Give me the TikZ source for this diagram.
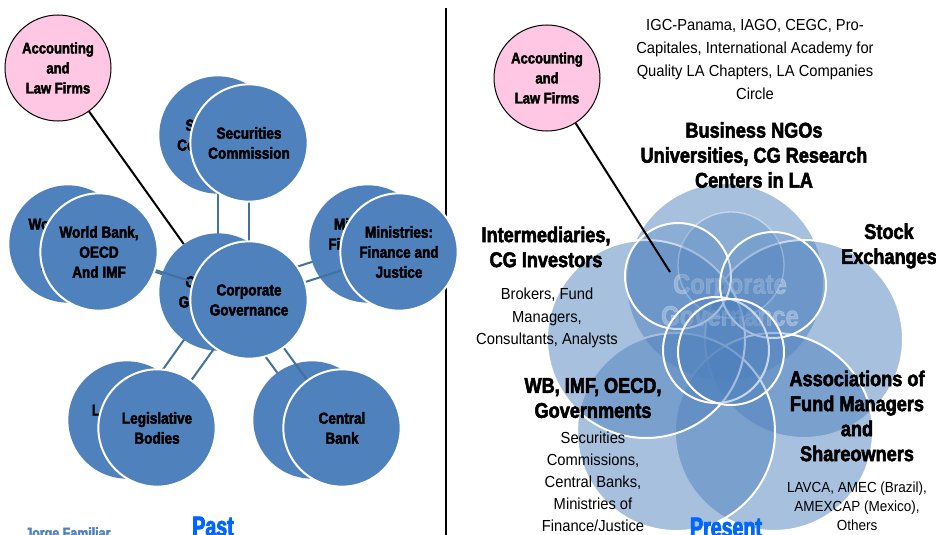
\documentclass[tikz,border=0pt]{standalone}
\usepackage{fontspec}
\setmainfont{Liberation Sans}
\newfontfamily\headfont{Liberation Sans Bold}[FakeStretch=0.85,FakeBold=2.5]
\newfontfamily\erafont{Liberation Sans Bold}[FakeStretch=0.7,FakeBold=3]
\newfontfamily\plainfont{Liberation Sans}[FakeStretch=0.92]
\usepackage{tikz}
\definecolor{cgblue}{RGB}{79,129,189}
\definecolor{linkblue}{RGB}{65,113,156}
\definecolor{pinkfill}{RGB}{255,199,228}
\definecolor{erablue}{RGB}{0,102,255}
\pgfdeclarelayer{backlinks}
\pgfdeclarelayer{backdiscs}
\pgfdeclarelayer{frontlinks}
\pgfsetlayers{backlinks,backdiscs,frontlinks,main}

\begin{document}
\begin{tikzpicture}[x=0.75pt,y=-0.75pt,
  link/.style={draw=linkblue,line width=1.5pt},
  backdisc/.style={circle,fill=cgblue,inner sep=0pt,minimum size=88pt,align=center,
    font=\headfont\fontsize{12}{15}\selectfont},
  frontdisc/.style={backdisc,draw=white,line width=1.5pt},
  pinkdisc/.style={circle,draw=black,line width=0.75pt,fill=pinkfill,minimum size=79.5pt,
    inner sep=0pt,align=center,font=\headfont\fontsize{11.5}{15}\selectfont},
  bigset/.style={circle,fill=cgblue,fill opacity=0.5,draw=white,line width=1.5pt,
    minimum size=148.5pt,inner sep=0pt},
  smallset/.style={circle,fill=cgblue,fill opacity=0.3,draw=white,line width=1.5pt,
    minimum size=79.5pt,inner sep=0pt},
  head/.style={align=center,inner sep=0pt,font=\headfont\fontsize{16}{18.75}\selectfont},
  note/.style={align=center,inner sep=0pt,font=\plainfont\fontsize{12}{17}\selectfont},
  era/.style={anchor=base,inner sep=0pt,text=erablue,font=\erafont\fontsize{21}{24}\selectfont}]
\useasboundingbox (0,0) rectangle (936,535);
\clip (0,0) rectangle (936,535);

% divider
\draw[line width=1.5pt] (446,8) -- (446,535);

% past: shadow discs
\begin{pgfonlayer}{backdiscs}
\node[backdisc] (scB) at (218,135) {Securities\\Commission};
\node[backdisc] (cgB) at (218,292) {Corporate\\Governance};
\node[backdisc] (wbB) at (68,244) {World Bank,\\OECD\\And IMF};
\node[backdisc] (mfB) at (368,244) {Ministries:\\Finance and\\Justice};
\node[backdisc] (lbB) at (127,420) {Legislative\\Bodies};
\node[backdisc] (cbB) at (312,420) {Central\\Bank};
\end{pgfonlayer}

% past: front discs
\node[frontdisc] (sc) at (249,143) {Securities\\Commission};
\node[frontdisc] (cg) at (249,300) {Corporate\\Governance};
\node[frontdisc] (wb) at (99,252) {World Bank,\\OECD\\And IMF};
\node[frontdisc] (mf) at (399,252) {Ministries:\\Finance and\\Justice};
\node[frontdisc] (lb) at (157,428) {Legislative\\Bodies};
\node[frontdisc] (cb) at (342,428) {Central\\Bank};

\begin{pgfonlayer}{backlinks}
\draw[link] (scB.center) -- (cgB.center);
\draw[link] (wbB.center) -- (cgB.center);
\draw[link] (mfB.center) -- (cgB.center);
\draw[link] (lbB.center) -- (cgB.center);
\draw[link] (cbB.center) -- (cgB.center);
\end{pgfonlayer}
\begin{pgfonlayer}{frontlinks}
\draw[link] (sc.center) -- (cg.center);
\draw[link] (wb.center) -- (cg.center);
\draw[link] (mf.center) -- (cg.center);
\draw[link] (lb.center) -- (cg.center);
\draw[link] (cb.center) -- (cg.center);
\end{pgfonlayer}

\node[pinkdisc] (firmsL) at (58,68) {Accounting\\and\\Law Firms};
\draw[line width=1.5pt] (firmsL) -- (cgB);

\node[era] (past) at (213,536) {Past};
\node[anchor=base west,inner sep=0pt,text=cgblue,
  font=\headfont\fontsize{11}{13}\selectfont] (author) at (25,538) {Jorge Familiar};

% present: venn
\node[bigset] (vTop) at (725,282) {};
\node[bigset] (vRight) at (804,339) {};
\node[bigset] (vLowR) at (774,432) {};
\node[bigset] (vLowL) at (676,432) {};
\node[bigset] (vLeft) at (646,339) {};

\node[align=center,inner sep=0pt,text=white,text opacity=0.45,
  font=\headfont\fontsize{21}{24}\selectfont] (cgText) at (730,300) {Corporate\\Governance};

\node[smallset,draw opacity=0.45,line width=1pt] (sB) at (731,265) {};
\node[smallset] (sA) at (678,276) {};
\node[smallset] (sC) at (773,285) {};
\node[smallset] (sD) at (716,350) {};
\node[smallset] (sE) at (731,352) {};

% present: labels
\node[note,font=\plainfont\fontsize{12}{17.25}\selectfont] (ngoList) at (755,59)
  {IGC-Panama, IAGO, CEGC, Pro-\\Capitales, International Academy for\\Quality LA Chapters, LA Companies\\Circle};
\node[head] (ngo) at (754,155) {Business NGOs\\Universities, CG Research\\Centers in LA};
\node[head] (inter) at (546,247) {Intermediaries,\\CG Investors};
\node[note] (interList) at (547,318) {Brokers, Fund\\Managers,\\Consultants, Analysts};
\node[head] (stock) at (889,246) {Stock\\Exchanges};
\node[head] (gov) at (593,398) {WB, IMF, OECD,\\Governments};
\node[note,font=\plainfont\fontsize{12}{16.5}\selectfont] (govList) at (593,482)
  {Securities\\Commissions,\\Central Banks,\\Ministries of\\Finance/Justice};
\node[head] (assoc) at (857,416) {Associations of\\Fund Managers\\and\\Shareowners};
\node[note,font=\plainfont\fontsize{11}{14.25}\selectfont] (assocList) at (857,506)
  {LAVCA, AMEC (Brazil),\\AMEXCAP (Mexico),\\Others};

\node[pinkdisc] (firmsR) at (547,78) {Accounting\\and\\Law Firms};
\coordinate (cgTip) at (670,272);
\draw[line width=1.5pt] (firmsR) -- (cgTip);

\node[era] (present) at (726,537) {Present};
\end{tikzpicture}
\end{document}
